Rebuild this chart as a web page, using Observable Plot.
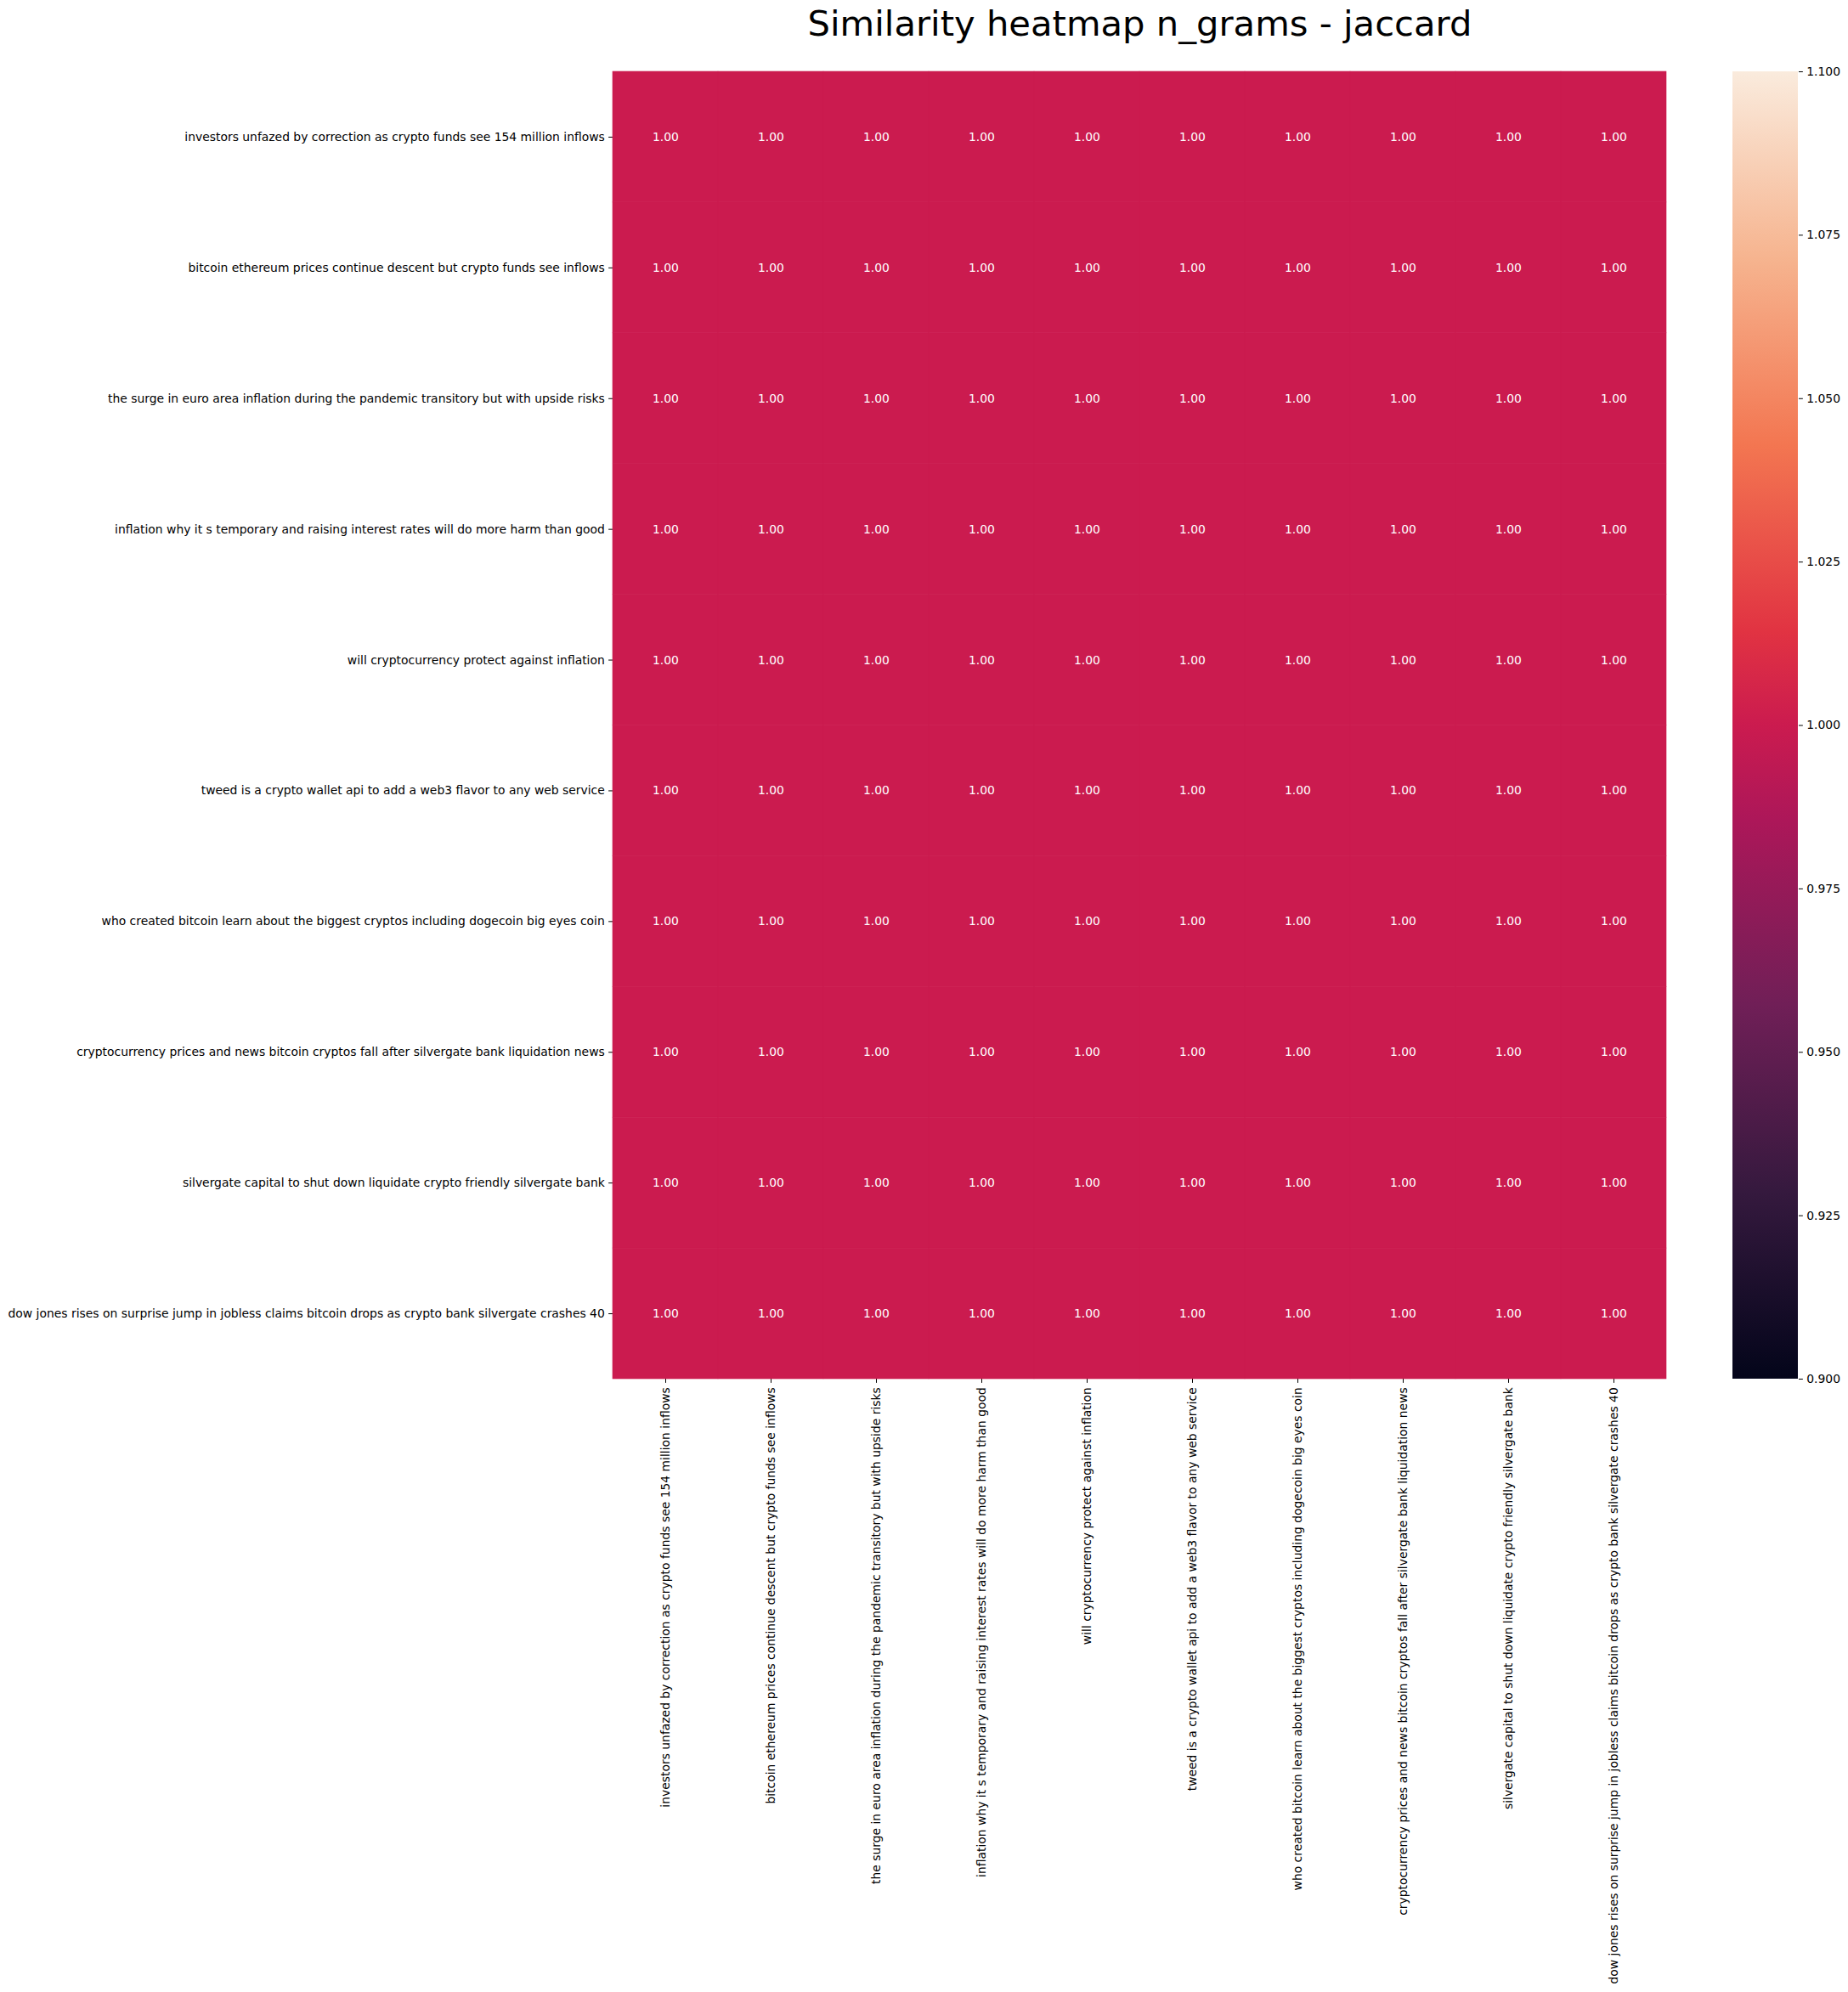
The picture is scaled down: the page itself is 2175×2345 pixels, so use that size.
<!DOCTYPE html>
<html>
<head>
<meta charset="utf-8">
<script src="https://cdn.jsdelivr.net/npm/d3@7"></script>
<script src="https://cdn.jsdelivr.net/npm/@observablehq/plot@0.6"></script>
<style>
  html, body { margin: 0; padding: 0; background: white; overflow: hidden; }
  #wrap { position: relative; width: 2175px; height: 2345px; background: white; }
  #wrap svg { position: absolute; top: 0; }
</style>
</head>
<body>
<div id="wrap"></div>
<script>
const titleText = "Similarity heatmap n_grams - jaccard";

const headlines = [
  "investors unfazed by correction as crypto funds see 154 million inflows",
  "bitcoin ethereum prices continue descent but crypto funds see inflows",
  "the surge in euro area inflation during the pandemic transitory but with upside risks",
  "inflation why it s temporary and raising interest rates will do more harm than good",
  "will cryptocurrency protect against inflation",
  "tweed is a crypto wallet api to add a web3 flavor to any web service",
  "who created bitcoin learn about the biggest cryptos including dogecoin big eyes coin",
  "cryptocurrency prices and news bitcoin cryptos fall after silvergate bank liquidation news",
  "silvergate capital to shut down liquidate crypto friendly silvergate bank",
  "dow jones rises on surprise jump in jobless claims bitcoin drops as crypto bank silvergate crashes 40"
];

const similarity = [
  [1.00, 1.00, 1.00, 1.00, 1.00, 1.00, 1.00, 1.00, 1.00, 1.00],
  [1.00, 1.00, 1.00, 1.00, 1.00, 1.00, 1.00, 1.00, 1.00, 1.00],
  [1.00, 1.00, 1.00, 1.00, 1.00, 1.00, 1.00, 1.00, 1.00, 1.00],
  [1.00, 1.00, 1.00, 1.00, 1.00, 1.00, 1.00, 1.00, 1.00, 1.00],
  [1.00, 1.00, 1.00, 1.00, 1.00, 1.00, 1.00, 1.00, 1.00, 1.00],
  [1.00, 1.00, 1.00, 1.00, 1.00, 1.00, 1.00, 1.00, 1.00, 1.00],
  [1.00, 1.00, 1.00, 1.00, 1.00, 1.00, 1.00, 1.00, 1.00, 1.00],
  [1.00, 1.00, 1.00, 1.00, 1.00, 1.00, 1.00, 1.00, 1.00, 1.00],
  [1.00, 1.00, 1.00, 1.00, 1.00, 1.00, 1.00, 1.00, 1.00, 1.00],
  [1.00, 1.00, 1.00, 1.00, 1.00, 1.00, 1.00, 1.00, 1.00, 1.00]
];

const colorDomain = [0.9, 1.1];
const colorbarTicks = [0.9, 0.925, 0.95, 0.975, 1.0, 1.025, 1.05, 1.075, 1.1];

// seaborn "rocket" colormap stops
const rocketPos = [0, 1/7, 2/7, 3/7, 0.5, 4/7, 5/7, 6/7, 1];
const rocketColors = ["#03051a", "#35193e", "#701f57", "#ad1759", "#cb1b4f", "#e13342", "#f37651", "#f6b48f", "#faebdd"];
const rocketScale = d3.scaleLinear().domain(rocketPos).range(rocketColors).interpolate(d3.interpolateRgb).clamp(true);
const rocket = t => rocketScale(t);

const cells = [];
similarity.forEach((row, i) => row.forEach((v, j) => cells.push({row: headlines[i], col: headlines[j], value: v})));

const W = 2175, H = 2345;
const mTop = 84, mBottom = H - 1623, mLeft = 721, mRight = W - 1961;
const fs = 13.9;
const tick = 4.86;

const main = Plot.plot({
  width: W,
  height: H,
  marginTop: mTop,
  marginBottom: mBottom,
  marginLeft: mLeft,
  marginRight: mRight,
  style: {fontFamily: "DejaVu Sans", fontSize: fs + "px", background: "transparent", color: "black"},
  x: {domain: headlines, padding: 0, round: false, label: null, tickRotate: -90, tickSize: tick, tickPadding: tick},
  y: {domain: headlines, padding: 0, round: false, label: null, tickSize: tick, tickPadding: tick},
  color: {type: "linear", domain: colorDomain, interpolate: rocket},
  marks: [
    Plot.cell(cells, {x: "col", y: "row", fill: "value", stroke: "value", strokeWidth: 0.6, inset: 0}),
    Plot.text(cells, {x: "col", y: "row", text: d => d.value.toFixed(2), fill: "white", fontSize: fs}),
    Plot.text([titleText], {text: d => d, frameAnchor: "top", lineAnchor: "bottom", dy: -43, fontSize: 41.7, fill: "black"})
  ]
});
main.style.left = "0px";
document.getElementById("wrap").appendChild(main);

// colorbar
const cbLeft = 2039, cbWidth = 77;
const cbW = W - cbLeft;
const cb = Plot.plot({
  width: cbW,
  height: H,
  marginTop: mTop,
  marginBottom: mBottom,
  marginLeft: 0,
  marginRight: cbW - cbWidth,
  style: {fontFamily: "DejaVu Sans", fontSize: fs + "px", background: "transparent", color: "black", overflow: "visible"},
  y: {domain: colorDomain, axis: "right", ticks: colorbarTicks, tickFormat: d3.format(".3f"), label: null, tickSize: tick, tickPadding: tick},
  marks: [
    Plot.rect([{lo: colorDomain[0], hi: colorDomain[1]}], {y1: "lo", y2: "hi", fill: "url(#rocketGrad)"})
  ]
});
cb.style.left = cbLeft + "px";
const ns = "http://www.w3.org/2000/svg";
const defs = document.createElementNS(ns, "defs");
const grad = document.createElementNS(ns, "linearGradient");
grad.setAttribute("id", "rocketGrad");
grad.setAttribute("x1", "0"); grad.setAttribute("y1", "1");
grad.setAttribute("x2", "0"); grad.setAttribute("y2", "0");
rocketPos.forEach((p, i) => {
  const s = document.createElementNS(ns, "stop");
  s.setAttribute("offset", p);
  s.setAttribute("stop-color", rocketColors[i]);
  grad.appendChild(s);
});
defs.appendChild(grad);
cb.insertBefore(defs, cb.firstChild);
document.getElementById("wrap").appendChild(cb);
</script>
</body>
</html>
